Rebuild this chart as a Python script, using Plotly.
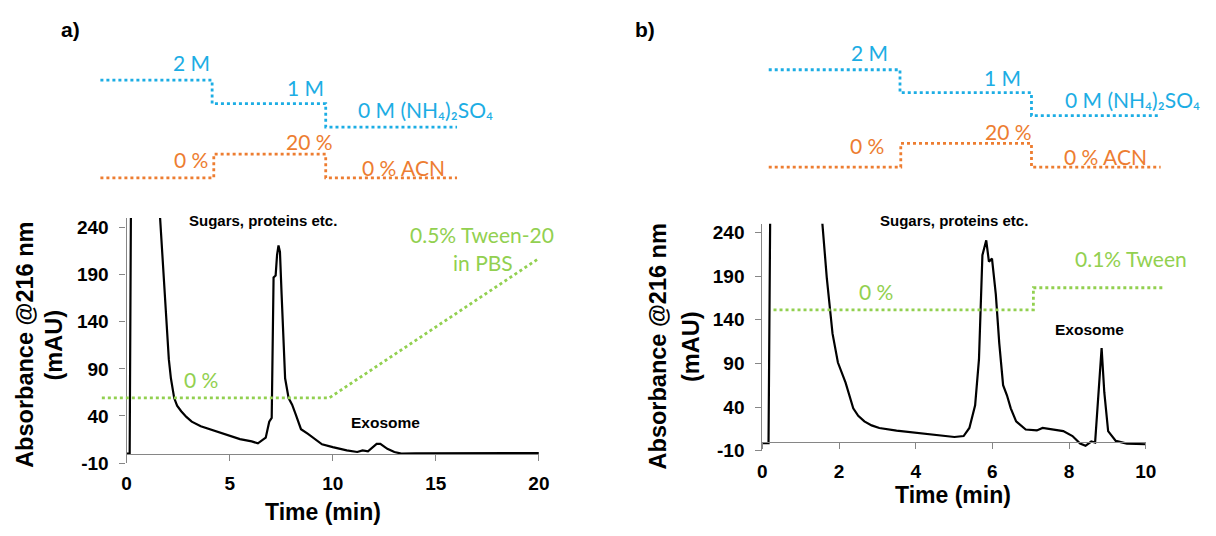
import plotly.graph_objects as go

W, H = 1216, 536

# ---------------- data ----------------
# a) chromatogram, 0.5% Tween-20 gradient
time_a = [0.0, 0.15, 0.22, 1.55, 1.62, 1.75, 1.88, 1.97, 2.05, 2.15, 2.31, 2.45, 2.65, 2.9,
          3.16, 3.6, 4.02, 4.5, 5.04, 5.5, 6.07, 6.37, 6.75, 6.92, 7.04, 7.13, 7.23, 7.30,
          7.37, 7.44, 7.52, 7.60, 7.69, 7.86, 8.03, 8.20, 8.46, 8.80, 9.06, 9.48, 10.0,
          10.68, 11.19, 11.45, 11.71, 12.13, 12.31, 12.65, 12.99, 13.33, 14.0, 15.0,
          16.0, 17.0, 18.0, 19.0, 20.0]
abs_a = [0.0, 0.0, 300, 300, 252, 205, 169, 134, 100, 80, 59, 51, 45, 39,
         34, 29, 26, 22, 18, 15.5, 13, 11, 17, 34, 38, 187, 189, 211,
         221, 214, 169, 117, 80, 59, 52, 42, 26, 21, 17, 10, 7,
         3.5, 1.8, 3.5, 2.5, 10.4, 10.4, 5.2, 1.8, 0.0, 0.3, 0.5,
         0.4, 0.6, 0.5, 0.6, 0.7]

salt_time_a = [-1.27, 4.15, 4.15, 9.66, 9.66, 16.03]
salt_a = [2, 2, 1, 1, 0, 0]
acn_time_a = [-1.27, 4.23, 4.23, 9.66, 9.66, 16.03]
acn_a = [0, 0, 20, 20, 0, 0]
tween_time_a = [-1.2, 9.83, 20.0]
tween_a = [0, 0, 0.5]

# b) chromatogram, 0.1% Tween step
time_b = [0.0, 0.16, 0.21, 1.50, 1.565, 1.68, 1.83, 1.97, 2.17, 2.27, 2.37, 2.5, 2.66,
          2.85, 3.05, 3.5, 4.03, 5.01, 5.25, 5.40, 5.55, 5.65, 5.74, 5.84, 5.91, 5.99,
          6.09, 6.18, 6.28, 6.38, 6.48, 6.62, 6.87, 7.16, 7.31, 7.55, 7.85, 8.09, 8.29,
          8.43, 8.58, 8.68, 8.78, 8.85, 8.92, 9.02, 9.22, 9.51, 10.0]
abs_b = [-1.3, -1.3, 300, 300, 250, 188, 124, 91, 68, 52, 38.5, 30, 23.6,
         19, 16, 13, 10.5, 5.7, 6.8, 16, 42, 94.5, 214, 231, 206.5, 210,
         169, 113, 65, 53.5, 38.5, 23.6, 14.3, 13.2, 16, 14.3, 12.4, 6.8, -1.8,
         -4.4, 0.5, -0.7, 57, 107.6, 57, 12.4, 1.2, -1.8, -2.6]

salt_time_b = [0.165, 3.59, 3.59, 7.02, 7.02, 10.39]
salt_b = [2, 2, 1, 1, 0, 0]
acn_time_b = [0.165, 3.61, 3.61, 7.02, 7.02, 10.39]
acn_b = [0, 0, 20, 20, 0, 0]
tween_time_b = [0.29, 7.07, 7.07, 10.49]
tween_b = [0, 0, 0.1, 0.1]

ticks_x_a = [0, 5, 10, 15, 20]
ticks_x_b = [0, 2, 4, 6, 8, 10]
ticks_y = [-10, 40, 90, 140, 190, 240]
tick_text_y = ["-10", "40", "90", "140", "190", "240"]

# ---------------- styling ----------------
BLUE = "#1CADE4"
ORANGE = "#ED7D31"
GREEN = "#92D050"
AXIS_GREY = "#868686"
BOLD = dict(family="Liberation Sans, Arial, sans-serif", weight="bold", color="black")
LABEL_FONT = "Lato, Calibri, sans-serif"


def fx(p):
    return p / W


def fy(p):
    return 1 - p / H


def calib(v_a, p_a, v_b, p_b, p_start, p_end):
    """Value range that maps v_a->p_a and v_b->p_b over the pixel window p_start..p_end."""
    k = (p_b - p_a) / (v_b - v_a)
    return [v_a + (p_start - p_a) / k, v_a + (p_end - p_a) / k]


fig = go.Figure()

layout_axes = {}


def chart_axes(xname, yname, xpx, ypx, xrange, ticks_x):
    x0, x1 = xpx
    ybot, ytop = ypx
    zero_px = ybot - (0 - (-10)) * (ybot - ytop) / 260.0
    layout_axes[xname] = dict(
        domain=[fx(x0), fx(x1)], range=xrange, anchor="free", position=fy(zero_px),
        showline=True, linecolor=AXIS_GREY, linewidth=1.2, ticks="outside", ticklen=6,
        tickcolor=AXIS_GREY, tickwidth=1.2, tickvals=ticks_x, showgrid=False, zeroline=False,
        tickfont=dict(size=19, **BOLD), ticklabelstandoff=6,
    )
    layout_axes[yname] = dict(
        domain=[fy(ybot), fy(ytop)], range=[-10, 250], anchor=xname.replace("axis", ""),
        showline=True, linecolor=AXIS_GREY, linewidth=1.2, ticks="outside", ticklen=6,
        tickcolor=AXIS_GREY, tickwidth=1.2, tickvals=ticks_y, ticktext=tick_text_y,
        showgrid=False, zeroline=False,
        tickfont=dict(size=19, **BOLD), ticklabelstandoff=7,
    )


def hidden_x(name, t_a, p_a, t_b, p_b, left, right):
    layout_axes[name] = dict(domain=[fx(left), fx(right)],
                             range=calib(t_a, p_a, t_b, p_b, left, right),
                             visible=False, showgrid=False, zeroline=False)


def hidden_y(name, v_a, p_a, v_b, p_b, pad=14):
    bottom = max(p_a, p_b) + pad
    top = min(p_a, p_b) - pad
    layout_axes[name] = dict(domain=[fy(bottom), fy(top)],
                             range=calib(v_a, p_a, v_b, p_b, bottom, top),
                             visible=False, showgrid=False, zeroline=False)


# chromatogram axes
chart_axes("xaxis", "yaxis", (123.2, 541.0), (472.7, 222.0), [0, 20], ticks_x_a)
chart_axes("xaxis2", "yaxis2", (767.5, 1155.9), (460.0, 227.8), [0, 10], ticks_x_b)

# gradient overlay axes (time axis shares the chromatogram scale, extended sideways)
hidden_x("xaxis3", 0, 123.2, 20, 541.0, 60, 590)
hidden_x("xaxis4", 0, 767.5, 10, 1155.9, 740, 1200)
hidden_y("yaxis3", 0, 129.0, 2, 81.0)        # (NH4)2SO4, panel a
hidden_y("yaxis4", 0, 181.0, 20, 156.7)      # ACN, panel a
hidden_y("yaxis5", 0, 406.0, 0.5, 263.3)     # Tween, panel a
hidden_y("yaxis6", 0, 117.3, 2, 70.3)        # (NH4)2SO4, panel b
hidden_y("yaxis7", 0, 170.0, 20, 145.7)      # ACN, panel b
hidden_y("yaxis8", 0, 316.0, 0.1, 293.3)     # Tween, panel b

dotted = dict(width=2.8, dash="dot")

gradients = [
    (salt_time_a, salt_a, "x3", "y3", BLUE),
    (acn_time_a, acn_a, "x3", "y4", ORANGE),
    (tween_time_a, tween_a, "x3", "y5", GREEN),
    (salt_time_b, salt_b, "x4", "y6", BLUE),
    (acn_time_b, acn_b, "x4", "y7", ORANGE),
    (tween_time_b, tween_b, "x4", "y8", GREEN),
]
for t, v, xa, ya, col in gradients:
    fig.add_trace(go.Scatter(x=t, y=v, xaxis=xa, yaxis=ya, mode="lines",
                             line=dict(color=col, **dotted), hoverinfo="skip",
                             showlegend=False))

fig.add_trace(go.Scatter(x=time_a, y=abs_a, xaxis="x", yaxis="y", mode="lines",
                         line=dict(color="black", width=2.2), showlegend=False))
fig.add_trace(go.Scatter(x=time_b, y=abs_b, xaxis="x2", yaxis="y2", mode="lines",
                         line=dict(color="black", width=2.2), showlegend=False))

# ---------------- text ----------------
notes = []


def note(text, x, y, size, color="black", bold=False, family=LABEL_FONT, angle=0):
    font = dict(size=size, color=color, family=family)
    if bold:
        font["weight"] = "bold"
    notes.append(dict(text=text, x=fx(x), y=fy(y), xref="paper", yref="paper",
                      xanchor="center", yanchor="middle", showarrow=False,
                      font=font, textangle=angle))


SANS = "Liberation Sans, Arial, sans-serif"
SO4 = "0 M (NH\u2084)\u2082SO\u2084"

# panel letters
note("a)", 66, 29, 21, bold=True, family=SANS)
note("b)", 649, 29, 21, bold=True, family=SANS)

# panel a gradient labels
note("2 M", 189, 63, 21, BLUE)
note("1 M", 305, 88, 21, BLUE)
note(SO4, 426, 111, 21, BLUE)
note("0 %", 188, 162, 21, ORANGE)
note("20 %", 309, 144, 21, ORANGE)
note("0 % ACN", 404, 170, 21, ORANGE)
note("0.5% Tween-20", 483, 239, 21, GREEN)
note("in PBS", 484, 267, 21, GREEN)
note("0 %", 199, 387, 21, GREEN)

# panel b gradient labels
note("2 M", 876, 53, 21, BLUE)
note("1 M", 1011, 78, 21, BLUE)
note(SO4, 1143, 101, 21, BLUE)
note("0 %", 873, 148, 21, ORANGE)
note("20 %", 1017, 133, 21, ORANGE)
note("0 % ACN", 1115, 159, 21, ORANGE)
note("0.1% Tween", 1141, 263, 21, GREEN)
note("0 %", 883, 297, 21, GREEN)

# peak labels
note("Sugars, proteins etc.", 261, 225, 15, bold=True, family=SANS)
note("Exosome", 386, 431, 15.5, bold=True, family=SANS)
note("Sugars, proteins etc.", 962, 225, 15, bold=True, family=SANS)
note("Exosome", 1099, 336, 15.5, bold=True, family=SANS)

# axis titles
for cx, cy, tx1, tx2, ty in [(322, 523, 20, 50, 352), (961, 505, 662, 695, 353)]:
    note("Time (min)", cx, cy, 23, bold=True, family=SANS)
    note("Absorbance @216 nm", tx1, ty, 23.5, bold=True, family=SANS, angle=-90)
    note("(mAU)", tx2, ty, 23.5, bold=True, family=SANS, angle=-90)

fig.update_layout(
    width=W, height=H,
    margin=dict(l=0, r=0, t=0, b=0),
    paper_bgcolor="white", plot_bgcolor="rgba(0,0,0,0)",
    showlegend=False,
    annotations=notes,
    **layout_axes,
)

fig.write_html("out.html", config={"displayModeBar": False})
